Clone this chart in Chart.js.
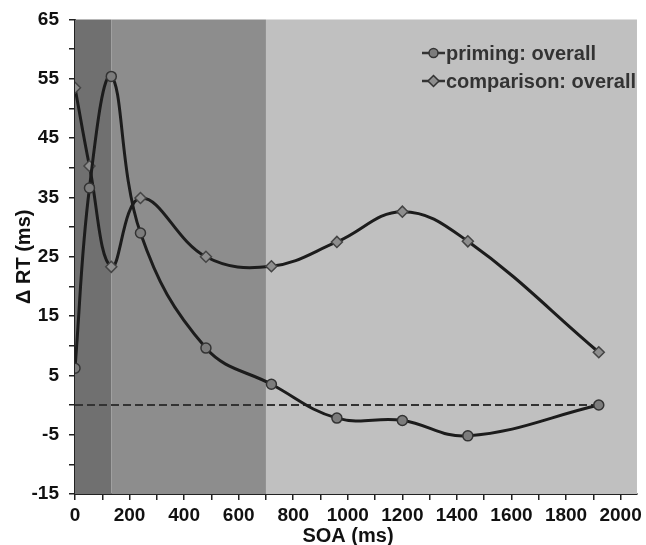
<!DOCTYPE html>
<html>
<head>
<meta charset="utf-8">
<script src="https://cdn.jsdelivr.net/npm/chart.js@4"></script>
<style>
  html, body { margin: 0; padding: 0; background: #fff; }
  #wrap { width: 646px; height: 545px; }
</style>
</head>
<body>
<div id="wrap"><canvas id="chart" width="646" height="545"></canvas></div>
<script>
// SOA values (ms)
const soa = [0, 53, 133, 240, 480, 720, 960, 1200, 1440, 1920];
const priming = [6.2, 36.6, 55.4, 29.0, 9.6, 3.5, -2.2, -2.6, -5.2, 0];
const comparison = [53.5, 40.3, 23.3, 34.9, 25.0, 23.4, 27.5, 32.6, 27.6, 8.9];

// x tick marks every 100 ms, labels every 200 ms
const xTicks = [0, 100, 200, 300, 400, 500, 600, 700, 800, 900, 1000,
    1100, 1200, 1300, 1400, 1500, 1600, 1700, 1800, 1900, 2000];

// shaded SOA bands
const bandStart = [0, 133, 700];
const bandEnd = [133, 700, 2060];
const bandColor = ['#707070', '#8d8d8d', '#c0c0c0'];

const seriesNames = ['priming: overall', 'comparison: overall'];

const toPoints = (ys) => soa.map((x, i) => ({ x: x, y: ys[i] }));
const FONT = '"Liberation Sans", Arial, sans-serif';

const bandsPlugin = {
    id: 'bands',
    beforeDatasetsDraw(chart) {
        const { ctx, chartArea, scales } = chart;
        ctx.save();
        for (let i = 0; i < bandStart.length; i++) {
            const x0 = scales.x.getPixelForValue(bandStart[i]);
            const x1 = scales.x.getPixelForValue(bandEnd[i]);
            ctx.fillStyle = bandColor[i];
            ctx.fillRect(x0, chartArea.top, x1 - x0, chartArea.bottom - chartArea.top);
        }
        ctx.restore();
    }
};

const legendPlugin = {
    id: 'innerLegend',
    afterDraw(chart) {
        const ctx = chart.ctx;
        ctx.save();
        ctx.font = 'bold 20px ' + FONT;
        ctx.textBaseline = 'middle';
        const rows = [53, 81];
        seriesNames.forEach((name, i) => {
            const ds = chart.data.datasets[i];
            const y = rows[i];
            ctx.strokeStyle = '#333';
            ctx.lineWidth = 2.5;
            ctx.beginPath();
            ctx.moveTo(422, y);
            ctx.lineTo(445, y);
            ctx.stroke();
            ctx.fillStyle = ds.pointBackgroundColor;
            ctx.lineWidth = 1.5;
            ctx.beginPath();
            if (ds.pointStyle === 'circle') {
                ctx.arc(433.5, y, 4.5, 0, Math.PI * 2);
            } else {
                ctx.moveTo(433.5, y - 5.5);
                ctx.lineTo(439, y);
                ctx.lineTo(433.5, y + 5.5);
                ctx.lineTo(428, y);
                ctx.closePath();
            }
            ctx.fill();
            ctx.stroke();
            ctx.fillStyle = '#333';
            ctx.fillText(name, 446, y + 1);
        });
        // x axis title
        ctx.fillStyle = '#111';
        ctx.textAlign = 'center';
        ctx.font = 'bold 20px ' + FONT;
        ctx.fillText('SOA (ms)', 348, 536);
        ctx.restore();
    }
};

new Chart(document.getElementById('chart'), {
    type: 'line',
    data: {
        datasets: [
            {
                label: seriesNames[0],
                data: toPoints(priming),
                borderColor: '#1c1c1c',
                borderWidth: 3,
                tension: 0.4,
                pointStyle: 'circle',
                pointRadius: 5,
                pointBackgroundColor: '#7c7c7c',
                pointBorderColor: '#333',
                pointBorderWidth: 1.5
            },
            {
                label: seriesNames[1],
                data: toPoints(comparison),
                borderColor: '#1c1c1c',
                borderWidth: 3,
                tension: 0.4,
                pointStyle: 'rectRot',
                pointRadius: 5.5,
                pointBackgroundColor: '#8e8e8e',
                pointBorderColor: '#444',
                pointBorderWidth: 1.5
            },
            {
                label: 'zero',
                data: [{ x: 0, y: 0 }, { x: 1920, y: 0 }],
                borderColor: '#333',
                borderWidth: 2,
                borderDash: [8, 4],
                pointRadius: 0
            }
        ]
    },
    options: {
        responsive: false,
        animation: false,
        layout: { padding: { top: 19, right: 9, left: 0, bottom: 0 } },
        plugins: {
            legend: { display: false },
            tooltip: { enabled: false }
        },
        scales: {
            x: {
                type: 'linear',
                min: 0,
                max: 2060,
                afterBuildTicks(scale) {
                    scale.ticks = xTicks.map(v => ({ value: v }));
                },
                afterFit(scale) { scale.height = 51; },
                ticks: {
                    autoSkip: false,
                    maxRotation: 0,
                    color: '#111',
                    font: { family: FONT, size: 19, weight: 'bold' },
                    padding: 4,
                    callback: (v) => (v % 200 === 0 ? v : '')
                },
                grid: { drawOnChartArea: false, drawTicks: true, tickLength: 6, color: '#222', lineWidth: 1.5 },
                border: { display: true, color: '#222', width: 2 }
            },
            y: {
                min: -15,
                max: 65,
                afterFit(scale) { scale.width = 75; },
                ticks: {
                    stepSize: 5,
                    autoSkip: false,
                    color: '#111',
                    font: { family: FONT, size: 19, weight: 'bold', lineHeight: 1 },
                    padding: 10,
                    callback: (v) => (Math.abs(v % 10) === 5 ? v : '')
                },
                grid: { drawOnChartArea: false, drawTicks: true, tickLength: 6, color: '#222', lineWidth: 1.5 },
                border: { display: true, color: '#222', width: 2 },
                title: {
                    display: true,
                    text: '\u0394 RT (ms)',
                    color: '#111',
                    font: { family: FONT, size: 20, weight: 'bold' },
                    padding: { top: 12, bottom: 0 }
                }
            }
        }
    },
    plugins: [bandsPlugin, legendPlugin]
});
</script>
</body>
</html>
